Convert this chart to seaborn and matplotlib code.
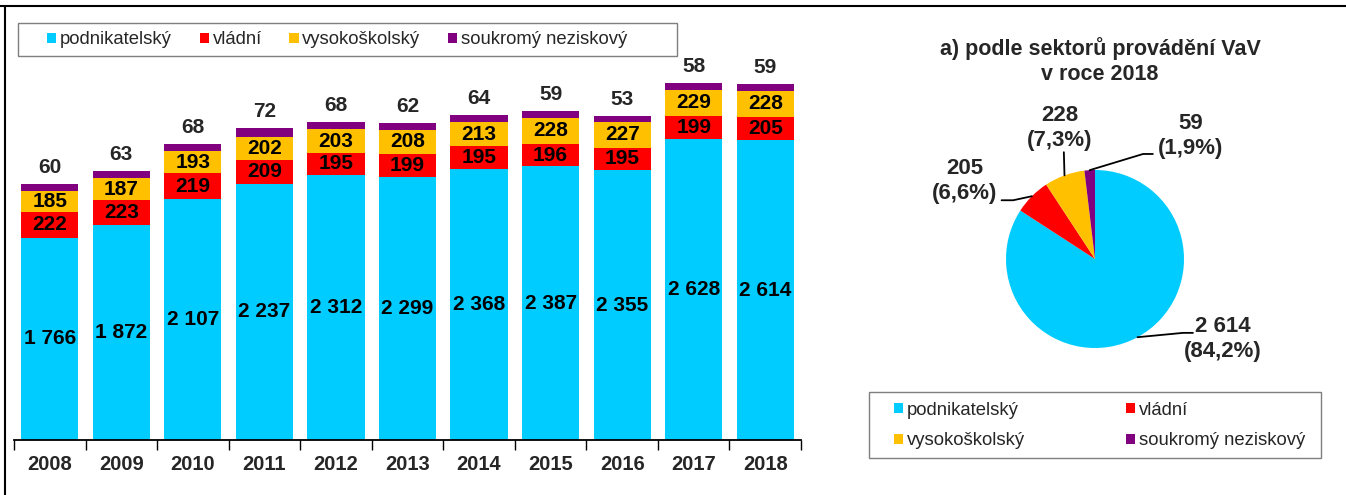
import matplotlib.pyplot as plt
import seaborn as sns
import numpy as np
from matplotlib.patches import Patch, Rectangle
from matplotlib.lines import Line2D

years = ['2008', '2009', '2010', '2011', '2012', '2013', '2014', '2015', '2016', '2017', '2018']
podnikatelsky = [1766, 1872, 2107, 2237, 2312, 2299, 2368, 2387, 2355, 2628, 2614]
vladni = [222, 223, 219, 209, 195, 199, 195, 196, 195, 199, 205]
vysokoskolsky = [185, 187, 193, 202, 203, 208, 213, 228, 227, 229, 228]
soukromy = [60, 63, 68, 72, 68, 62, 64, 59, 53, 58, 59]

sectors = ['podnikatelský', 'vládní', 'vysokoškolský', 'soukromý neziskový']
colors = ['#00CCFF', '#FF0000', '#FFC000', '#800080']
pie_values = [podnikatelsky[-1], vladni[-1], vysokoskolsky[-1], soukromy[-1]]
pie_title = 'a) podle sektorů provádění VaV\nv roce 2018'


def fmt(v):
    return f'{v:,}'.replace(',', ' ')


sns.set_style('white')
plt.rcParams['font.family'] = ['Liberation Sans', 'DejaVu Sans']

W, H = 1346, 495
fig = plt.figure(figsize=(W / 100, H / 100), dpi=100)

# stacked bars (drawn as cumulative totals, back to front)
ax = fig.add_axes([14 / W, 55 / H, 787 / W, 424 / H])
c1 = np.array(podnikatelsky)
c2 = c1 + np.array(vladni)
c3 = c2 + np.array(vysokoskolsky)
c4 = c3 + np.array(soukromy)
for cum, col in zip([c4, c3, c2, c1], colors[::-1]):
    sns.barplot(x=years, y=cum, color=col, saturation=1, width=0.8, linewidth=0, ax=ax)

lab = dict(ha='center', va='center', fontsize=15, fontweight='bold', color='black')
for i in range(len(years)):
    ax.text(i, c1[i] / 2, fmt(podnikatelsky[i]), **lab)
    ax.text(i, c1[i] + vladni[i] / 2, fmt(vladni[i]), **lab)
    ax.text(i, c2[i] + vysokoskolsky[i] / 2, fmt(vysokoskolsky[i]), **lab)
    ax.annotate(fmt(soukromy[i]), (i, c4[i]), xytext=(0, 5), textcoords='offset points',
                ha='center', va='bottom', fontsize=15, fontweight='bold')

ax.set_xlim(-0.5, len(years) - 0.5)
ax.set_ylim(0, 3700)
ax.set_yticks([])
ax.set_xlabel('')
ax.set_ylabel('')
for s in ['left', 'right', 'top']:
    ax.spines[s].set_visible(False)
ax.spines['bottom'].set_color('black')
ax.spines['bottom'].set_linewidth(1.3)
ax.set_xticks(np.arange(-0.5, len(years)), minor=True)
ax.tick_params(axis='x', which='major', length=0, pad=11, labelsize=14.5)
ax.tick_params(axis='x', which='minor', length=7, width=1, color='black', direction='out', bottom=True)
for t in ax.get_xticklabels():
    t.set_fontweight('bold')

handles = [Patch(facecolor=c, edgecolor='none') for c in colors]
fig.add_artist(Rectangle((18 / W, 1 - 56 / H), 659 / W, 33 / H, transform=fig.transFigure,
                         facecolor='white', edgecolor='#7f7f7f', lw=1, zorder=2))
leg1 = fig.legend(handles, sectors, ncol=4, loc='center left', bbox_to_anchor=(47 / W, 1 - 40 / H),
                  frameon=False, fontsize=13.3, handlelength=0.5, handleheight=0.5,
                  handletextpad=0.2, columnspacing=1.5, borderpad=0, borderaxespad=0)
leg1.set_zorder(3)

# pie
R = 89
half = 1.7 * R
pax = fig.add_axes([(1095 - half) / W, (H - 259 - half) / H, 2 * half / W, 2 * half / H])
wedges, _ = pax.pie(pie_values, colors=colors, startangle=90, counterclock=False,
                    radius=1, wedgeprops=dict(linewidth=0))
pax.set_xlim(-1.7, 1.7)
pax.set_ylim(-1.7, 1.7)
pax.set_aspect('equal')
pax.axis('off')

total = sum(pie_values)
label_pos = [(1.44, -0.90), (-1.46, 0.88), (-0.40, 1.47), (1.07, 1.38)]
elbows = [[(0.99, -0.83), (1.10, -0.83)],
          [(-0.92, 0.66), (-1.05, 0.66)],
          [(-0.35, 1.2)],
          [(0.54, 1.18), (0.65, 1.18)]]
for w, v, pos, el in zip(wedges, pie_values, label_pos, elbows):
    mid = np.deg2rad((w.theta1 + w.theta2) / 2)
    pts = [(np.cos(mid), np.sin(mid))] + el
    pax.plot([p[0] for p in pts], [p[1] for p in pts], color='black', lw=1.3)
    pct = f'{100 * v / total:.1f}'.replace('.', ',')
    pax.text(pos[0], pos[1], f'{fmt(v)}\n({pct}%)', ha='center', va='center',
             fontsize=16, fontweight='bold', linespacing=1.25)

fig.text(1100 / W, 1 - 61 / H, pie_title, ha='center', va='center', fontsize=15.5,
         fontweight='bold', linespacing=1.2)

fig.add_artist(Rectangle((869 / W, 1 - 458 / H), 452 / W, 66 / H, transform=fig.transFigure,
                         facecolor='white', edgecolor='#7f7f7f', lw=1, zorder=2))
order = [0, 2, 1, 3]
leg2 = fig.legend([handles[i] for i in order], [sectors[i] for i in order], ncol=2,
                  loc='center left', bbox_to_anchor=(894 / W, 1 - 425.5 / H), frameon=False,
                  fontsize=13.3, handlelength=0.5, handleheight=0.5, handletextpad=0.2,
                  columnspacing=5.45, labelspacing=0.75, borderpad=0, borderaxespad=0)
leg2.set_zorder(3)

# outer frame
fig.add_artist(Line2D([0, 1], [1 - 6 / H, 1 - 6 / H], transform=fig.transFigure, color='black', lw=1.5))
fig.add_artist(Line2D([5 / W, 5 / W], [0, 1 - 6 / H], transform=fig.transFigure, color='black', lw=1.5))

fig.savefig('out.png', dpi=100)
